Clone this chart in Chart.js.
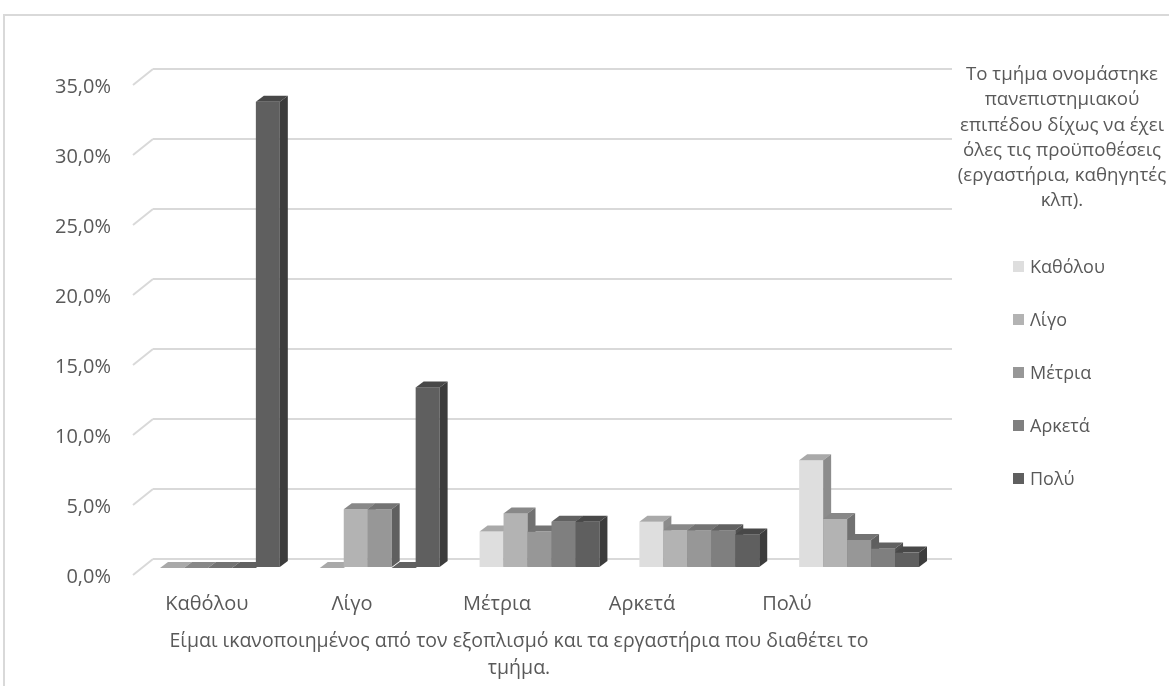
<!DOCTYPE html>
<html>
<head>
<meta charset="utf-8">
<script src="https://cdn.jsdelivr.net/npm/chart.js@4.4.1/dist/chart.umd.min.js"></script>
<style>
html,body{margin:0;padding:0;background:#fff;width:1169px;height:686px;overflow:hidden;font-family:"Open Sans",sans-serif;}
#frame{position:absolute;left:3px;top:14px;width:1200px;height:720px;border-left:2px solid #d9d9d9;border-top:2px solid #d9d9d9;}
#chart{position:absolute;left:0;top:0;}
#legend{position:absolute;left:947px;top:60px;width:230px;color:#595959;}
#legend .ttl{text-align:center;font-size:18.7px;line-height:25.3px;white-space:nowrap;}
#legend .item{position:absolute;left:66px;font-size:18px;line-height:24px;height:24px;display:flex;align-items:center;white-space:nowrap;}
#legend .sw{width:11px;height:11px;margin-right:6px;flex:none;}
</style>
</head>
<body>
<div id="frame"></div>
<canvas id="chart" width="1169" height="686"></canvas>
<div id="legend"><div class="ttl" id="legendTitle"></div></div>
<script>
// ---- data ----
const categories = ['Καθόλου', 'Λίγο', 'Μέτρια', 'Αρκετά', 'Πολύ'];
const seriesNames = ['Καθόλου', 'Λίγο', 'Μέτρια', 'Αρκετά', 'Πολύ'];
const katholou = [0, 0, 2.6, 3.3, 7.7];
const ligo     = [0, 4.2, 3.9, 2.7, 3.5];
const metria   = [0, 4.2, 2.6, 2.7, 2.0];
const arketa   = [0, 0, 3.3, 2.7, 1.4];
const poly     = [33.3, 12.9, 3.3, 2.4, 1.1];
const yTicks = [0, 5, 10, 15, 20, 25, 30, 35];
const xAxisTitle = ['Είμαι ικανοποιημένος από τον εξοπλισμό και τα εργαστήρια που διαθέτει το', 'τμήμα.'];
const legendTitle = ['Το τμήμα ονομάστηκε', 'πανεπιστημιακού', 'επιπέδου  δίχως να έχει', 'όλες τις προϋποθέσεις', '(εργαστήρια, καθηγητές', 'κλπ).'];

// ---- styles ----
const seriesColors = ['#dedede', '#b3b3b3', '#979797', '#7f7f7f', '#5f5f5f'];
const textColor = '#595959';
const gridColor = '#d9d9d9';
const FONT = '"Open Sans", sans-serif';
const DX = 8, DY = 6;             // bar depth
const SHIFT_X = -13, SHIFT_Y = 9; // bars drawn in front of back wall
const WALL_X = 20, WALL_Y = 16;   // side wall

function shade(hex, f) {
  const n = parseInt(hex.slice(1), 16);
  const r = Math.round(((n >> 16) & 255) * f), g = Math.round(((n >> 8) & 255) * f), b = Math.round((n & 255) * f);
  return `rgb(${r},${g},${b})`;
}

const wallPlugin = {
  id: 'wall3d',
  beforeDatasetsDraw(chart) {
    const ctx = chart.ctx, y = chart.scales.y, left = chart.chartArea.left;
    ctx.save();
    ctx.strokeStyle = gridColor;
    ctx.lineWidth = 2;
    y.ticks.forEach(t => {
      const py = y.getPixelForValue(t.value);
      ctx.beginPath();
      ctx.moveTo(left - WALL_X, py + WALL_Y);
      ctx.lineTo(left, py);
      ctx.stroke();
    });
    ctx.restore();
  }
};

const barsPlugin = {
  id: 'bars3d',
  beforeDatasetDraw() { return false; },
  afterDatasetsDraw(chart) {
    const ctx = chart.ctx;
    ctx.save();
    ctx.translate(SHIFT_X, SHIFT_Y);
    const n = chart.data.labels.length;
    for (let i = 0; i < n; i++) {
      chart.data.datasets.forEach((ds, d) => {
        const el = chart.getDatasetMeta(d).data[i];
        if (!el) return;
        const p = el.getProps(['x', 'y', 'base', 'width'], true);
        const l = p.x - p.width / 2, r = p.x + p.width / 2;
        const c = ds.backgroundColor;
        ctx.fillStyle = c;
        ctx.fillRect(l, p.y, p.width, p.base - p.y);
        ctx.fillStyle = shade(c, 0.76);
        ctx.beginPath();
        ctx.moveTo(l, p.y); ctx.lineTo(l + DX, p.y - DY); ctx.lineTo(r + DX, p.y - DY); ctx.lineTo(r, p.y);
        ctx.closePath(); ctx.fill();
        ctx.fillStyle = shade(c, 0.63);
        ctx.beginPath();
        ctx.moveTo(r, p.y); ctx.lineTo(r + DX, p.y - DY); ctx.lineTo(r + DX, p.base - DY); ctx.lineTo(r, p.base);
        ctx.closePath(); ctx.fill();
      });
    }
    ctx.restore();
  }
};

const seriesData = [katholou, ligo, metria, arketa, poly];

const chart = new Chart(document.getElementById('chart'), {
  type: 'bar',
  data: {
    labels: categories,
    datasets: seriesNames.map((name, k) => ({
      label: name,
      data: seriesData[k],
      backgroundColor: seriesColors[k],
      borderWidth: 0,
      barPercentage: 1,
      categoryPercentage: 0.75
    }))
  },
  options: {
    responsive: false,
    animation: false,
    devicePixelRatio: 1,
    layout: { padding: { left: 40, right: 171, top: 69, bottom: 4 } },
    plugins: {
      legend: { display: false },
      tooltip: { enabled: false },
      title: {
        display: true, position: 'bottom', fullSize: true, text: xAxisTitle, color: textColor,
        font: { family: FONT, size: 19.5, weight: 'normal', lineHeight: 27 / 19.5 },
        padding: { top: 0, bottom: 0 }
      }
    },
    scales: {
      x: { display: false, offset: true, grid: { display: false } },
      // label axis: category names seen in perspective on the front edge of the floor
      x2: {
        type: 'linear', position: 'bottom', bounds: 'data', offset: false, min: -0.372, max: 5.138,
        afterBuildTicks: s => { s.ticks = categories.map((c, i) => ({ value: i })); },
        grid: { display: false, drawTicks: false, offset: false }, border: { display: false },
        ticks: {
          autoSkip: false, maxRotation: 0, padding: 33,
          color: textColor, font: { family: FONT, size: 20 },
          callback: v => categories[v] !== undefined ? categories[v] : ''
        },
        afterFit: s => { s.height = 69; }
      },
      y: {
        min: 0, max: 35,
        afterBuildTicks: s => { s.ticks = yTicks.map(v => ({ value: v })); },
        grid: { color: gridColor, lineWidth: 2, drawTicks: false },
        border: { display: false },
        ticks: {
          padding: 42, labelOffset: 18, color: textColor, font: { family: FONT, size: 20 },
          callback: v => v.toFixed(1).replace('.', ',') + '%'
        },
        afterFit: s => { s.width = 113; }
      },
      yR: {
        type: 'linear', position: 'right',
        grid: { display: false, drawTicks: false }, border: { display: false },
        ticks: { display: false },
        afterFit: s => { s.width = 46; }
      }
    }
  },
  plugins: [wallPlugin, barsPlugin]
});

// HTML legend built from the chart's datasets
const lg = document.getElementById('legend');
document.getElementById('legendTitle').innerHTML = legendTitle.join('<br>');
chart.data.datasets.forEach((ds, k) => {
  const item = document.createElement('div');
  item.className = 'item';
  item.style.top = (206 - 12 + k * 53) + 'px';
  const sw = document.createElement('span');
  sw.className = 'sw';
  sw.style.background = ds.backgroundColor;
  const tx = document.createElement('span');
  tx.textContent = ds.label;
  item.appendChild(sw); item.appendChild(tx);
  lg.appendChild(item);
});
</script>
</body>
</html>
